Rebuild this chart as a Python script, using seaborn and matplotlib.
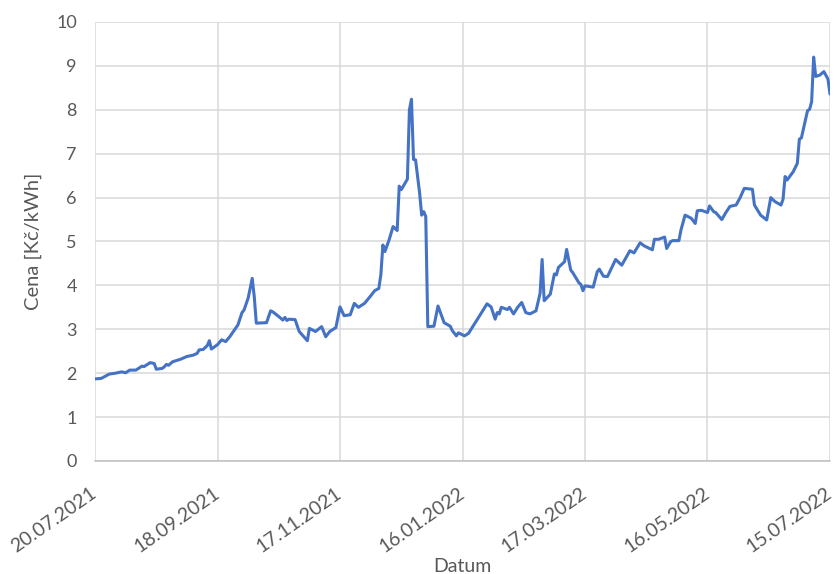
import pandas as pd
import matplotlib.pyplot as plt
import matplotlib.dates as mdates
import seaborn as sns

# --- data: day offset from 20.07.2021 and price ---
start_date = "2021-07-20"
day_offset = [0, 3, 7, 10, 13, 15, 17, 20, 23, 24, 27, 29, 30, 33, 34, 35, 36, 38, 42, 45,
              48, 50, 51, 53, 55, 56, 57, 60, 62, 64, 66, 70, 72, 73, 75, 77, 78, 79, 84, 86,
              87, 90, 92, 93, 94, 95, 98, 100, 104, 105, 108, 111, 113, 115, 118, 120, 122, 125, 127, 129,
              132, 135, 137, 139, 140, 141, 142, 144, 146, 148, 149, 150, 153, 154, 155, 156, 157, 159, 160, 161,
              162, 163, 166, 168, 170, 171, 174, 175, 177, 178, 181, 183, 185, 188, 192, 194, 196, 197, 198, 199,
              202, 203, 205, 207, 209, 211, 213, 216, 218, 219, 220, 223, 225, 226, 227, 230, 231, 233, 234, 237,
              238, 239, 240, 244, 246, 247, 249, 251, 255, 258, 262, 264, 267, 269, 273, 274, 276, 279, 280, 282,
              283, 286, 287, 289, 292, 294, 295, 297, 300, 301, 303, 304, 307, 309, 311, 314, 316, 318, 322, 323,
              326, 329, 331, 333, 336, 337, 338, 339, 342, 344, 345, 346, 349, 350, 351, 352, 353, 355, 357, 359,
              360]
price = [1.87, 1.88, 1.98, 2.00, 2.03, 2.01, 2.07, 2.07, 2.16, 2.15, 2.24, 2.22, 2.09, 2.11, 2.15, 2.20, 2.18, 2.26, 2.32, 2.38,
         2.41, 2.45, 2.53, 2.54, 2.63, 2.74, 2.55, 2.65, 2.76, 2.72, 2.83, 3.10, 3.38, 3.44, 3.71, 4.16, 3.74, 3.14, 3.15, 3.42,
         3.40, 3.29, 3.21, 3.27, 3.20, 3.23, 3.22, 2.95, 2.74, 3.02, 2.95, 3.06, 2.83, 2.95, 3.04, 3.51, 3.31, 3.33, 3.59, 3.50,
         3.59, 3.76, 3.88, 3.93, 4.24, 4.92, 4.77, 5.03, 5.34, 5.25, 6.26, 6.18, 6.42, 8.00, 8.24, 6.87, 6.86, 6.10, 5.60, 5.68,
         5.57, 3.06, 3.07, 3.53, 3.28, 3.15, 3.07, 2.97, 2.85, 2.92, 2.85, 2.91, 3.06, 3.28, 3.58, 3.51, 3.23, 3.38, 3.35, 3.50,
         3.45, 3.50, 3.35, 3.50, 3.61, 3.38, 3.35, 3.42, 3.82, 4.59, 3.65, 3.80, 4.26, 4.24, 4.41, 4.54, 4.82, 4.35, 4.29, 4.06,
         4.02, 3.88, 3.99, 3.96, 4.31, 4.37, 4.21, 4.20, 4.59, 4.46, 4.79, 4.74, 4.97, 4.90, 4.81, 5.05, 5.05, 5.10, 4.84, 5.00,
         5.02, 5.02, 5.26, 5.60, 5.53, 5.41, 5.70, 5.71, 5.66, 5.81, 5.68, 5.66, 5.50, 5.66, 5.80, 5.83, 6.00, 6.21, 6.19, 5.83,
         5.60, 5.49, 6.00, 5.91, 5.83, 5.96, 6.48, 6.40, 6.59, 6.78, 7.33, 7.36, 7.98, 8.01, 8.18, 9.20, 8.76, 8.79, 8.87, 8.70,
         8.36]
tick_step_days = 60
end_date = "2022-07-15"

df = pd.DataFrame({
    "Datum": pd.Timestamp(start_date) + pd.to_timedelta(day_offset, unit="D"),
    "Cena": price,
})

sns.set_theme(style="whitegrid")
plt.rcParams["font.family"] = ["Lato", "DejaVu Sans"]

fig = plt.figure(figsize=(8.35, 5.74), dpi=100)
ax = fig.add_axes([0.1138, 0.1969, 0.8802, 0.7648])

sns.lineplot(data=df, x="Datum", y="Cena", color="#4472C4", linewidth=2.2, ax=ax)

ax.set_ylim(0, 10)
ax.set_yticks(range(0, 11))
ax.set_xlim(pd.Timestamp(start_date), pd.Timestamp(end_date))
ax.set_xticks(pd.date_range(start_date, end_date, freq=f"{tick_step_days}D"))
ax.xaxis.set_major_formatter(mdates.DateFormatter("%d.%m.%Y"))

ax.grid(True, color="#d9d9d9", linewidth=1.1)
for side in ["top", "right", "left"]:
    ax.spines[side].set_visible(False)
ax.spines["bottom"].set_color("#bfbfbf")
ax.spines["bottom"].set_linewidth(1.1)

ax.tick_params(axis="both", length=0, colors="#595959")
ax.tick_params(axis="y", pad=13, labelsize=13)
ax.tick_params(axis="x", pad=22, labelsize=14)
for lbl in ax.get_xticklabels():
    lbl.set_rotation(35)
    lbl.set_ha("right")
    lbl.set_va("center")
    lbl.set_rotation_mode("anchor")

ax.set_xlabel("Datum", fontsize=14, color="#595959")
ax.xaxis.set_label_coords(0.5, -0.221)
ax.set_ylabel("Cena [Kč/kWh]", fontsize=14.5, color="#595959", labelpad=10)

fig.savefig("out.png", dpi=100, facecolor="white")
